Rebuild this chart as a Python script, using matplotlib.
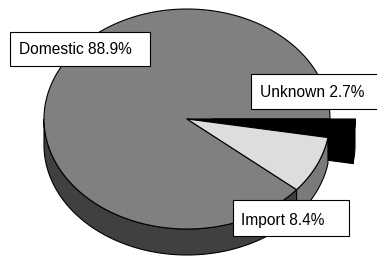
import numpy as np
import matplotlib.pyplot as plt
from matplotlib.patches import Polygon, Rectangle

# slice data (percent)
labels = ['Domestic', 'Import', 'Unknown']
shares = [88.9, 8.4, 2.7]
explode = [0, 0, 25]          # px, Unknown pulled out to the right
top_colors = ['#808080', '#dddddd', '#000000']
side_colors = ['#404040', '#7a7a7a', '#000000']

# label boxes (x0, y0, x1, y1) and text anchor (x, baseline)
label_boxes = [(10, 32, 150, 66), (233, 200, 349, 236), (251, 74, 378, 109)]
label_text_pos = [(19, 54.5), (241, 225), (260, 97)]

# pie geometry in pixels
cx, cy = 187, 119
rx, ry = 143, 110
depth = 26


def rim(t, dx=0.0, down=0.0):
    return np.column_stack([cx + dx + rx * np.cos(t), cy - ry * np.sin(t) + down])


def wall(t1, t2, dx=0.0):
    # outer side wall of arc t1..t2 restricted to the front half
    a, b = max(t1, np.pi), min(t2, 2 * np.pi)
    if b <= a:
        return None
    t = np.linspace(a, b, 80)
    return np.vstack([rim(t, dx), rim(t[::-1], dx, depth)])


def radial(t, dx=0.0):
    p = rim(np.array([t]), dx)[0]
    return np.array([[cx + dx, cy], p, p + [0, depth], [cx + dx, cy + depth]])


def top(t1, t2, dx=0.0):
    t = np.linspace(t1, t2, 200)
    return np.vstack([[cx + dx, cy], rim(t, dx)])


fig = plt.figure(figsize=(3.77, 2.57), dpi=100)
ax = fig.add_axes([0, 0, 1, 1])
ax.set_xlim(0, 377)
ax.set_ylim(257, 0)
ax.axis('off')

edges = np.cumsum([0] + shares) / sum(shares) * 2 * np.pi
kw = dict(ec='black', lw=0.8, joinstyle='round')

# back: exploded slice sides and the gap it leaves
for i, e in enumerate(explode):
    if e:
        t1, t2 = edges[i], edges[i + 1]
        ax.add_patch(Polygon(radial(t2 - 2 * np.pi), fc=side_colors[i], **kw))
        ax.add_patch(Polygon(radial(t1, e), fc=side_colors[i], **kw))
        w = wall(t1, t2, e)
        if w is not None:
            ax.add_patch(Polygon(w, fc=side_colors[i], **kw))

# walls of the body
for i, e in enumerate(explode):
    if not e:
        w = wall(edges[i], edges[i + 1])
        if w is not None:
            ax.add_patch(Polygon(w, fc=side_colors[i], **kw))

# tops
for i, e in enumerate(explode):
    if not e:
        ax.add_patch(Polygon(top(edges[i], edges[i + 1]), fc=top_colors[i], **kw))
for i, e in enumerate(explode):
    if e:
        ax.add_patch(Polygon(top(edges[i], edges[i + 1], e), fc=top_colors[i], **kw))

# labels
for lab, val, (x0, y0, x1, y1), (tx, ty) in zip(labels, shares, label_boxes, label_text_pos):
    ax.add_patch(Rectangle((x0, y0), x1 - x0, y1 - y0, fc='white', ec='black', lw=0.8))
    ax.text(tx, ty, f'{lab} {val}%', fontsize=11.2, family='Liberation Sans',
            ha='left', va='baseline', color='black')

fig.savefig('out.png', dpi=100)
